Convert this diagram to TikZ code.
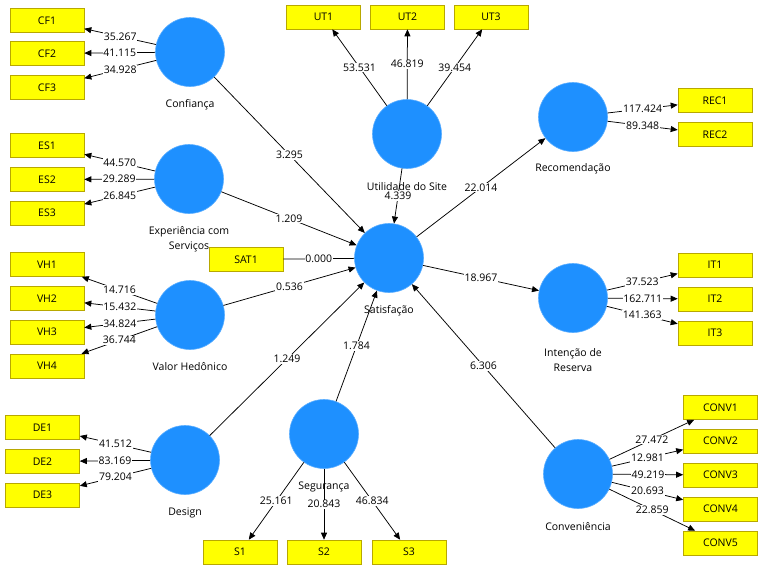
\documentclass[tikz,border=0pt]{standalone}
\usepackage{fontspec}
\setmainfont{Open Sans}
\usetikzlibrary{arrows.meta}
\definecolor{lvblue}{HTML}{1E90FF}
\definecolor{lvedge}{HTML}{5AAEFF}
\definecolor{mvyellow}{HTML}{FFFF00}
\definecolor{mvedge}{HTML}{B8A800}
\tikzset{
  lv/.style={circle,fill=lvblue,draw=lvedge,line width=0.6pt,minimum size=69pt,inner sep=0pt},
  mv/.style={rectangle,fill=mvyellow,draw=mvedge,line width=0.6pt,minimum width=74pt,minimum height=24pt,inner sep=0pt,font=\fontsize{10.5}{12}\selectfont},
  lvname/.style={font=\fontsize{10.5}{15}\selectfont,align=center,inner sep=0pt},
  wt/.style={fill=white,inner sep=0.8pt,font=\fontsize{10.5}{12}\selectfont},
  path/.style={line width=0.75pt,-{Triangle[length=7pt,width=6pt]}},
  plain/.style={line width=0.75pt}
}
\begin{document}
\begin{tikzpicture}[x=1pt,y=-1pt]
\useasboundingbox[fill=white] (0,0) rectangle (763,570);
% latent variables
\node[lv] (conf) at (190,52) {};
\node[lv] (exp) at (189,179) {};
\node[lv] (vh) at (190,315) {};
\node[lv] (des) at (185,460) {};
\node[lv] (seg) at (324,434) {};
\node[lv] (sat) at (389,258) {};
\node[lv] (util) at (407,134) {};
\node[lv] (rec) at (573,117) {};
\node[lv] (int) at (573,298) {};
\node[lv] (conv) at (578,474) {};
% indicators
\node[mv] (cf1) at (47,20.5) {CF1};
\node[mv] (cf2) at (47,53.5) {CF2};
\node[mv] (cf3) at (47,87.5) {CF3};
\node[mv] (es1) at (47,145.5) {ES1};
\node[mv] (es2) at (47,179.5) {ES2};
\node[mv] (es3) at (47,213) {ES3};
\node[mv] (vh1) at (47,264.5) {VH1};
\node[mv] (vh2) at (47,298.5) {VH2};
\node[mv] (vh3) at (47,332) {VH3};
\node[mv] (vh4) at (47,366) {VH4};
\node[mv] (de1) at (42.5,427.5) {DE1};
\node[mv] (de2) at (42.5,461.5) {DE2};
\node[mv] (de3) at (42.5,495) {DE3};
\node[mv] (s1) at (240,552) {S1};
\node[mv] (s2) at (324,552) {S2};
\node[mv] (s3) at (409,552) {S3};
\node[mv] (ut1) at (323.5,17) {UT1};
\node[mv] (ut2) at (407.5,17) {UT2};
\node[mv] (ut3) at (491,17) {UT3};
\node[mv] (rec1) at (715,100.5) {REC1};
\node[mv] (rec2) at (715,134.5) {REC2};
\node[mv] (it1) at (715,265) {IT1};
\node[mv] (it2) at (715,299) {IT2};
\node[mv] (it3) at (715,333) {IT3};
\node[mv] (conv1) at (720.5,407.5) {CONV1};
\node[mv] (conv2) at (720.5,441) {CONV2};
\node[mv] (conv3) at (720.5,475) {CONV3};
\node[mv] (conv4) at (720.5,509) {CONV4};
\node[mv] (conv5) at (720.5,543) {CONV5};
\node[mv] (sat1) at (246,259.5) {SAT1};
% latent names
\node[lvname] (nconf) at (190,105) {Confiança};
\node[lvname] (nexp) at (189,239) {Experiência com\\Serviços};
\node[lvname] (nvh) at (190,367) {Valor Hedônico};
\node[lvname] (ndes) at (185,513) {Design};
\node[lvname] (nseg) at (324,487) {Segurança};
\node[lvname] (nsat) at (389,311) {Satisfação};
\node[lvname] (nutil) at (407,187) {Utilidade do Site};
\node[lvname] (nrec) at (573,169) {Recomendação};
\node[lvname] (nint) at (573,360) {Intenção de\\Reserva};
\node[lvname] (nconv) at (578,527) {Conveniência};
% outer loadings
\draw[path] (conf) -- node[wt]{35.267} (cf1);
\draw[path] (conf) -- node[wt]{41.115} (cf2);
\draw[path] (conf) -- node[wt]{34.928} (cf3);
\draw[path] (exp) -- node[wt]{44.570} (es1);
\draw[path] (exp) -- node[wt]{29.289} (es2);
\draw[path] (exp) -- node[wt]{26.845} (es3);
\draw[path] (vh) -- node[wt]{14.716} (vh1);
\draw[path] (vh) -- node[wt]{15.432} (vh2);
\draw[path] (vh) -- node[wt]{34.824} (vh3);
\draw[path] (vh) -- node[wt]{36.744} (vh4);
\draw[path] (des) -- node[wt]{41.512} (de1);
\draw[path] (des) -- node[wt]{83.169} (de2);
\draw[path] (des) -- node[wt]{79.204} (de3);
\draw[path] (seg) -- node[wt]{25.161} (s1);
\draw[path] (seg) -- node[wt]{20.843} (s2);
\draw[path] (seg) -- node[wt]{46.834} (s3);
\draw[path] (util) -- node[wt]{53.531} (ut1);
\draw[path] (util) -- node[wt]{46.819} (ut2);
\draw[path] (util) -- node[wt]{39.454} (ut3);
\draw[path] (rec) -- node[wt]{117.424} (rec1);
\draw[path] (rec) -- node[wt]{89.348} (rec2);
\draw[path] (int) -- node[wt]{37.523} (it1);
\draw[path] (int) -- node[wt]{162.711} (it2);
\draw[path] (int) -- node[wt]{141.363} (it3);
\draw[path] (conv) -- node[wt]{27.472} (conv1);
\draw[path] (conv) -- node[wt]{12.981} (conv2);
\draw[path] (conv) -- node[wt]{49.219} (conv3);
\draw[path] (conv) -- node[wt]{20.693} (conv4);
\draw[path] (conv) -- node[wt]{22.859} (conv5);
\draw[plain] (sat1) -- node[wt]{0.000} (sat);
% structural paths
\draw[path] (conf) -- node[wt]{3.295} (sat);
\draw[path] (exp) -- node[wt]{1.209} (sat);
\draw[path] (vh) -- node[wt]{0.536} (sat);
\draw[path] (des) -- node[wt]{1.249} (sat);
\draw[path] (seg) -- node[wt]{1.784} (sat);
\draw[path] (conv) -- node[wt]{6.306} (sat);
\draw[path] (util) -- node[wt]{4.339} (sat);
\draw[path] (sat) -- node[wt]{22.014} (rec);
\draw[path] (sat) -- node[wt]{18.967} (int);
\end{tikzpicture}
\end{document}
